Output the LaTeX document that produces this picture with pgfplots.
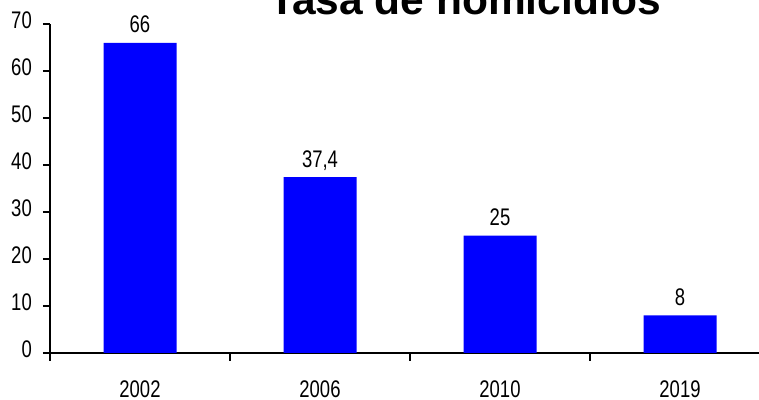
\documentclass[border=0pt]{standalone}
\usepackage{fontspec}
\setmainfont[FakeStretch=0.77]{Liberation Sans}
\newfontfamily\titlefont{Liberation Sans}
\usepackage{pgfplots}
\pgfplotsset{compat=1.18}
\begin{document}
\begin{tikzpicture}
\begin{axis}[
  at={(50bp,47bp)}, anchor=south west,
  scale only axis, width=720bp, height=329bp,
  xmin=-0.5, xmax=3.5, ymin=0, ymax=70,
  axis x line=bottom, axis y line=left,
  axis line style={-, line width=1.6bp, black},
  ybar, bar width=73bp, bar shift=0pt,
  xtick={0,1,2,3}, xticklabels={2002,2006,2010,2019},
  minor xtick={-0.5,0.5,1.5,2.5,3.5},
  ytick={0,10,...,70},
  tick align=outside,
  major tick length=7bp, minor tick length=8bp,
  major x tick style={draw=none},
  every tick/.style={black, line width=1.3bp},
  tick label style={font=\fontsize{24bp}{28bp}\selectfont, inner sep=0pt},
  xticklabel style={anchor=base, yshift=-38bp},
  yticklabel style={anchor=base east, xshift=-11bp, yshift=-5bp},
  /pgf/number format/.cd, use comma, assume math mode=true, 1000 sep={},
  /pgfplots/.cd,
  nodes near coords,
  every node near coord/.append style={anchor=base, yshift=10bp, font=\fontsize{24bp}{28bp}\selectfont, black, inner sep=0pt},
]
\addplot[fill={rgb,255:red,0;green,0;blue,255}, draw=none] coordinates {(0,66) (1,37.4) (2,25) (3,8)};
\end{axis}
\node[anchor=base, font=\titlefont\bfseries\fontsize{42.5bp}{50bp}\selectfont, inner sep=0pt] at (465bp,385bp) {Tasa de homicidios};
\pgfresetboundingbox
\path[use as bounding box] (0,0) rectangle (759bp,400bp);
\end{tikzpicture}
\end{document}
